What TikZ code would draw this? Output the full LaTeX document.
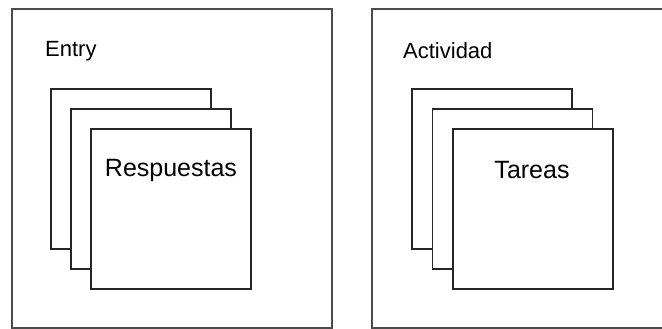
\documentclass[tikz,border=0pt]{standalone}
\usepackage{fontspec}
\setmainfont{Liberation Sans}
\begin{document}
\begin{tikzpicture}[x=1pt, y=-1pt,
    outer/.style={draw=black!70, line width=1.3pt, minimum width=320pt, minimum height=319pt, inner sep=0pt},
    page/.style={draw=black!85, fill=white, line width=1.8pt, minimum size=160pt, inner sep=0pt},
    title/.style={font=\fontsize{22}{26}\selectfont, anchor=west, inner sep=0pt},
    big/.style={font=\fontsize{25}{30}\selectfont, inner sep=0pt}]
    \useasboundingbox (0,0) rectangle (662,329);
    \clip (0,0) rectangle (662,329);
    \node[outer] (entry) at (172,168.5) {};
    \node[outer] (actividad) at (532,168.5) {};
    \node[title] (entrylbl) at (45,51) {Entry};
    \node[title] (actlbl) at (403,51) {Actividad};
    \foreach \i in {0,1,2} {
        \node[page] (r\i) at (131+20*\i, 169+20*\i) {};
        \node[page] (t\i) at (492+20.5*\i, 169+20*\i) {};
    }
    \node[big] (resp) at (171,170) {Respuestas};
    \node[big] (tareas) at (532,170) {Tareas};
\end{tikzpicture}
\end{document}
